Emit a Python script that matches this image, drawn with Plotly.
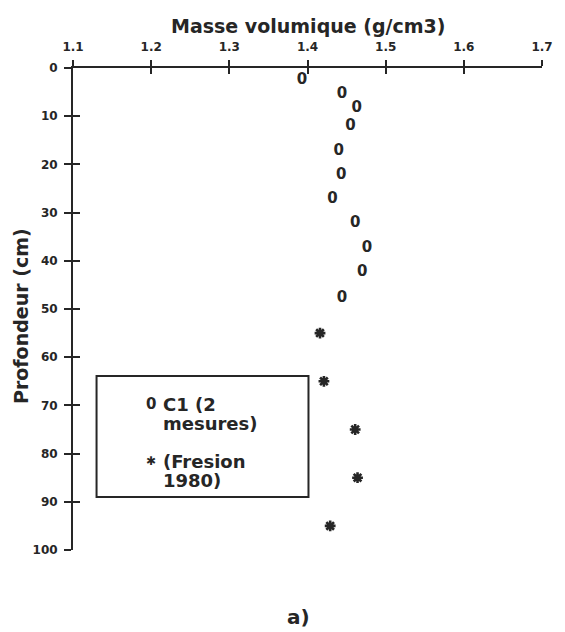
import plotly.graph_objects as go

# Bulk density profile: site C1 (2 measurements) and Fresion (1980)
depth_c1 = [2.5, 5.5, 8.3, 12.0, 17.3, 22.2, 27.2, 32.3, 37.3, 42.4, 47.7]
density_c1 = [1.393, 1.444, 1.463, 1.455, 1.440, 1.443, 1.432, 1.461, 1.476, 1.470, 1.444]

depth_fresion = [55, 65, 75, 85, 95]
density_fresion = [1.416, 1.421, 1.461, 1.464, 1.429]

x_ticks = [1.1, 1.2, 1.3, 1.4, 1.5, 1.6, 1.7]
y_ticks = [0, 10, 20, 30, 40, 50, 60, 70, 80, 90, 100]

x_title = "Masse volumique (g/cm3)"
y_title = "Profondeur (cm)"
legend_c1 = ["C1 (2", "mesures)"]
legend_fresion = ["(Fresion", "1980)"]
caption = "a)"

INK = "#262626"
FONT = "DejaVu Sans"
X_RANGE = [1.1, 1.7]
Y_RANGE = [100, 0]

fig = go.Figure()

fig.add_trace(go.Scatter(
    x=density_c1, y=depth_c1, mode="text",
    text=["0"] * len(depth_c1), textposition="middle center",
    textfont=dict(family=FONT, size=15, color=INK, weight="bold"),
    hoverinfo="skip", showlegend=False,
))

fig.add_trace(go.Scatter(
    x=density_fresion, y=depth_fresion, mode="markers",
    marker=dict(symbol="asterisk-open", size=9, color=INK,
                line=dict(width=2.6, color=INK)),
    hoverinfo="skip", showlegend=False,
))

# empty trace carrying the overlay axes that draw the inner half of each tick
fig.add_trace(go.Scatter(x=[None], y=[None], xaxis="x2", yaxis="y2",
                         hoverinfo="skip", showlegend=False))

tick_font = dict(family=FONT, size=12, color=INK, weight="bold")

fig.update_layout(
    width=565, height=632,
    margin=dict(l=73, r=14, t=68, b=82),
    plot_bgcolor="white", paper_bgcolor="white",
    showlegend=False,
    xaxis=dict(
        side="top", range=X_RANGE, tickvals=x_ticks,
        ticktext=[f"{v:.1f}" for v in x_ticks],
        showline=True, linecolor=INK, linewidth=2,
        ticks="outside", ticklen=6, tickwidth=2, tickcolor=INK,
        ticklabelstandoff=4, tickfont=tick_font,
        showgrid=False, zeroline=False, anchor="y",
    ),
    yaxis=dict(
        range=Y_RANGE, tickvals=y_ticks,
        ticktext=[str(v) for v in y_ticks],
        showline=True, linecolor=INK, linewidth=2,
        ticks="outside", ticklen=7, tickwidth=2, tickcolor=INK,
        ticklabelstandoff=4, tickfont=tick_font,
        showgrid=False, zeroline=False, anchor="x",
    ),
    xaxis2=dict(
        overlaying="x", side="top", anchor="y2", range=X_RANGE,
        tickvals=x_ticks, showticklabels=False, showline=False,
        ticks="inside", ticklen=6, tickwidth=2, tickcolor=INK,
        showgrid=False, zeroline=False,
    ),
    yaxis2=dict(
        overlaying="y", side="left", anchor="x2", range=Y_RANGE,
        tickvals=y_ticks, showticklabels=False, showline=False,
        ticks="inside", ticklen=7, tickwidth=2, tickcolor=INK,
        showgrid=False, zeroline=False,
    ),
)

# plot-area geometry in pixels, used to place free text in paper units
PX_L, PX_R, PX_T, PX_B = 73, 551, 68, 550


def px(xp, yp):
    return (xp - PX_L) / (PX_R - PX_L), (PX_B - yp) / (PX_B - PX_T)


title_font = dict(family=FONT, size=19, color=INK, weight="bold")
legend_font = dict(family=FONT, size=18, color=INK, weight="bold")

annotations = []
ax, ay = px(312, 26)
annotations.append(dict(x=ax, y=ay, xref="paper", yref="paper", text=x_title,
                        showarrow=False, font=title_font,
                        xanchor="center", yanchor="middle"))
ax, ay = px(20, 316)
annotations.append(dict(x=ax, y=ay, xref="paper", yref="paper", text=y_title,
                        textangle=-90, showarrow=False, font=title_font,
                        xanchor="center", yanchor="middle"))

# legend entries
for sym, lines, y0 in (("0", legend_c1, 404), ("✱", legend_fresion, 461)):
    sx, sy = px(152, y0)
    annotations.append(dict(x=sx, y=sy, xref="paper", yref="paper", text=sym,
                            showarrow=False,
                            font=dict(family=FONT, size=15 if sym == "0" else 12,
                                      color=INK, weight="bold"),
                            xanchor="center", yanchor="middle"))
    for i, line in enumerate(lines):
        lx, ly = px(163, y0 + 19 * i)
        annotations.append(dict(x=lx, y=ly, xref="paper", yref="paper",
                                text=line, showarrow=False, font=legend_font,
                                xanchor="left", yanchor="middle"))

cx, cy = px(303, 617)
annotations.append(dict(x=cx, y=cy, xref="paper", yref="paper", text=caption,
                        showarrow=False,
                        font=dict(family=FONT, size=20, color=INK, weight="bold"),
                        xanchor="center", yanchor="middle"))

fig.update_layout(annotations=annotations)

# legend frame
bx0, by0 = px(97, 497)
bx1, by1 = px(313, 376)
fig.add_shape(type="rect", xref="paper", yref="paper",
              x0=bx0, y0=by0, x1=bx1, y1=by1,
              line=dict(color=INK, width=2), fillcolor="white", layer="below")

fig.write_html("out.html")
